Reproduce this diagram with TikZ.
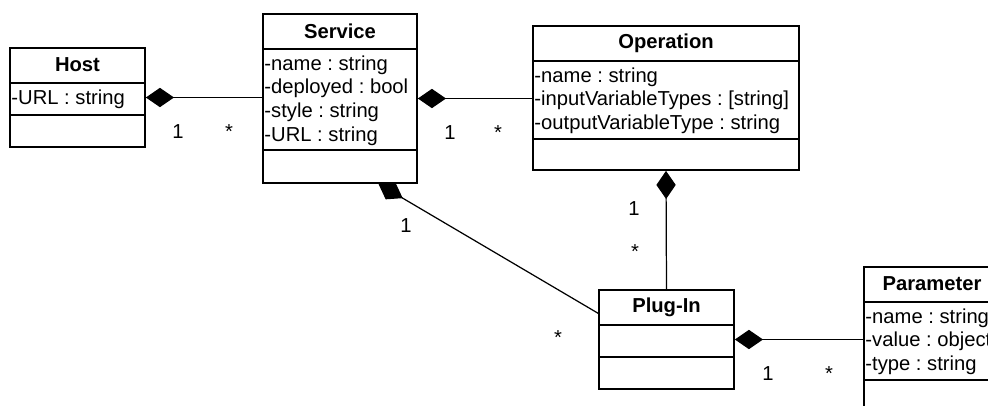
\documentclass[tikz,border=0pt]{standalone}
\usepackage{fontspec}
\setmainfont{Liberation Sans}
\usetikzlibrary{positioning,arrows.meta,fit,calc}
\frenchspacing

\begin{document}
\begin{tikzpicture}[x=0.02cm, y=-0.02cm,
    every node/.style={font=\fontsize{11.5pt}{13.4pt}\selectfont},
    classbox/.style={draw, line width=1pt, inner sep=0pt},
    divider/.style={line width=1pt},
    title/.style={font=\fontsize{11.5pt}{13.4pt}\selectfont\bfseries, inner sep=0pt},
    attr/.style={anchor=base west, inner sep=0pt},
    mult/.style={anchor=base, inner sep=0pt},
    compose/.style={line width=0.7pt, {Diamond[length=16pt,width=11pt]}-}]

    \useasboundingbox (0,0) rectangle (988,406);
    \clip (0,0) rectangle (988,406);

    % Class boxes
    \node[classbox, fit={(10,48) (145,147)}] (host) {};
    \node[classbox, fit={(263,14) (417,183)}] (service) {};
    \node[classbox, fit={(533,26) (799,170)}] (operation) {};
    \node[classbox, fit={(599,290) (734,389)}] (plugin) {};
    \node[classbox, fit={(864,267) (1000,420)}] (parameter) {};

    % Compartment lines
    \foreach \cls/\attrdiv in {host/68, service/137, operation/114, plugin/68, parameter/114} {
        \draw[divider] ($(\cls.north west)+(0,36)$) -- ($(\cls.north east)+(0,36)$);
        \draw[divider] ($(\cls.north west)+(0,\attrdiv)$) -- ($(\cls.north east)+(0,\attrdiv)$);
    }

    % Class names
    \node[title] (hostname) at ($(host.north)+(0,18)$) {Host};
    \node[title] (servicename) at ($(service.north)+(0,18)$) {Service};
    \node[title] (operationname) at ($(operation.north)+(0,18)$) {Operation};
    \node[title] (pluginname) at ($(plugin.north)+(0,18)$) {Plug-In};
    \node[title] (parametername) at ($(parameter.north)+(0,18)$) {Parameter};

    % Attributes
    \node[attr] (host-1) at ($(host.north west)+(2,57)$) {-URL : string};
    \foreach \attrtext [count=\i] in {{-name : string}, {-deployed : bool}, {-style : string}, {-URL : string}}
        \node[attr] (service-\i) at ($(service.north west)+(2,{57+(\i-1)*23.7})$) {\attrtext};
    \foreach \attrtext [count=\i] in {{-name : string}, {-inputVariableTypes : [string]}, {-outputVariableType : string}}
        \node[attr] (operation-\i) at ($(operation.north west)+(2,{57+(\i-1)*23.7})$) {\attrtext};
    \foreach \attrtext [count=\i] in {{-name : string}, {-value : object}, {-type : string}}
        \node[attr] (parameter-\i) at ($(parameter.north west)+(2,{57+(\i-1)*23.7})$) {\attrtext};

    % Compositions
    \draw[compose] (host.east) -- (host.east -| service.west);
    \draw[compose] (service.east) -- (service.east -| operation.west);
    \draw[compose] (operation.south) -- (plugin.north);
    \draw[compose] ($(service.south west)!0.747!(service.south east)$) -- ($(plugin.north west)!0.24!(plugin.south west)$);
    \draw[compose] (plugin.east) -- (plugin.east -| parameter.west);

    % Multiplicities
    \node[mult] (hostone) at (178,138) {1};
    \node[mult] (hostmany) at (229,138) {*};
    \node[mult] (serviceone) at (450,139) {1};
    \node[mult] (servicemany) at (498,139) {*};
    \node[mult] (operationone) at (634,215) {1};
    \node[mult] (operationmany) at (635,258) {*};
    \node[mult] (plugone) at (406,232) {1};
    \node[mult] (plugmany) at (558,344) {*};
    \node[mult] (paramone) at (768,380) {1};
    \node[mult] (parammany) at (829,380) {*};
\end{tikzpicture}
\end{document}
